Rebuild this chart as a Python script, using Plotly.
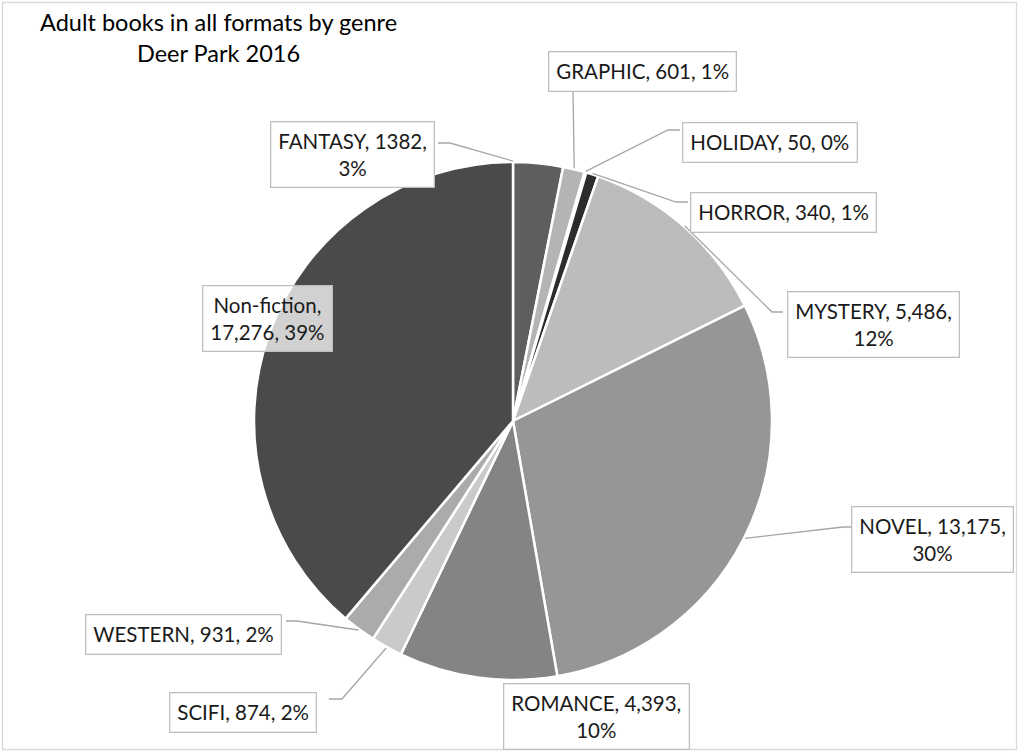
import math
import plotly.graph_objects as go

# ---- data ----
genres = ["FANTASY", "GRAPHIC", "HOLIDAY", "HORROR", "MYSTERY", "NOVEL",
          "ROMANCE", "SCIFI", "WESTERN", "Non-fiction"]
counts = [1382, 601, 50, 340, 5486, 13175, 4393, 874, 931, 17276]
# how each value is printed in the reference labels
value_text = ["1382", "601", "50", "340", "5,486", "13,175", "4,393", "874", "931", "17,276"]
# label line-break templates
label_tpl = ["{g}, {v},<br>{p}", "{g}, {v}, {p}", "{g}, {v}, {p}", "{g}, {v}, {p}",
             "{g}, {v},<br>{p}", "{g}, {v},<br>{p}", "{g}, {v},<br>{p}",
             "{g}, {v}, {p}", "{g}, {v}, {p}", "{g},<br>{v}, {p}"]

title_lines = ["Adult books in all formats by genre", "Deer Park 2016"]

# ---- styles / layout ----
W, H = 1019, 752
CX, CY, R = 513, 421, 259
colors = ["#5e5e5e", "#b4b4b4", "#9a9a9a", "#2c2c2c", "#bcbcbc", "#969696",
          "#848484", "#cacaca", "#ababab", "#4a4a4a"]
# label box centres (pixels)
box_pos = [(352, 155), (642, 72), (770, 142), (783, 213), (873, 324), (932, 539),
           (596, 716), (243, 712), (183, 634), (267, 318)]
# leader line route: (elbow point, attach point on box) in pixels; None = no leader
leader_route = [((450, 143), (438, 143)), (None, (573, 90)), ((668, 130), (680, 130)),
                ((676, 202), (688, 202)), ((772, 312), (783, 312)),
                ((843, 527), (853, 527)), None, ((342, 699), (329, 699)),
                ((297, 621), (286, 621)), None]
# where along each slice's arc the leader touches (0 = slice start, 0.5 = middle)
tip_at = [0.0, 0.5, 0.5, 0.5, 0.5, 0.5, 0.5, 0.5, 0.5, 0.5]
FONT = "Lato, 'Open Sans', sans-serif"

fig = go.Figure(go.Pie(
    labels=genres, values=counts, sort=False, direction="clockwise", rotation=0,
    marker=dict(colors=colors, line=dict(color="white", width=2.5)),
    textinfo="none", hoverinfo="label+value+percent", showlegend=False,
    domain=dict(x=[(CX - R) / W, (CX + R) / W], y=[(H - CY - R) / H, (H - CY + R) / H]),
))


def px(x, y):
    return x / W, 1 - y / H


total = sum(counts)
cum = 0
annotations = []
shapes = [dict(type="rect", xref="paper", yref="paper",
               x0=2.5 / W, x1=1 - 2.5 / W, y0=2.5 / H, y1=1 - 2.5 / H,
               line=dict(color="#d9d9d9", width=1.3), layer="below")]
for i, g in enumerate(genres):
    frac = counts[i] / total
    pct = f"{round(frac * 100)}%"
    text = label_tpl[i].format(g=g, v=value_text[i], p=pct)
    theta = 2 * math.pi * (cum + frac * tip_at[i])
    cum += frac
    route = leader_route[i]
    if route is not None:
        tx = CX + (R + 1) * math.sin(theta)
        ty = CY - (R + 1) * math.cos(theta)
        pts = [(tx, ty)] + [p for p in route if p is not None]
        path = "M " + " L ".join("{:.5f},{:.5f}".format(*px(*p)) for p in pts)
        shapes.append(dict(type="path", xref="paper", yref="paper", path=path,
                           line=dict(color="#a6a6a6", width=1.3), layer="above"))
    bx, by = box_pos[i]
    x, y = px(bx, by)
    annotations.append(dict(
        text=text, x=x, y=y, xref="paper", yref="paper", showarrow=False,
        xanchor="center", yanchor="middle", align="center",
        font=dict(family=FONT, size=20.5, color="#1a1a1a"),
        bgcolor="rgba(255,255,255,0.75)" if i == 9 else "white",
        bordercolor="#bfbfbf", borderwidth=1.3, borderpad=7))

tx, ty = px(218, 38)
annotations.append(dict(text="<br>".join(title_lines), x=tx, y=ty,
                        xref="paper", yref="paper", showarrow=False,
                        xanchor="center", yanchor="middle", align="center",
                        font=dict(family=FONT, size=23.5, color="#000000")))

fig.update_layout(
    width=W, height=H, margin=dict(l=0, r=0, t=0, b=0),
    paper_bgcolor="white", plot_bgcolor="white",
    annotations=annotations, shapes=shapes,
)

fig.write_html("out.html", config={"displayModeBar": False},
               post_script="document.body.style.margin='0';document.body.style.overflow='hidden';")
